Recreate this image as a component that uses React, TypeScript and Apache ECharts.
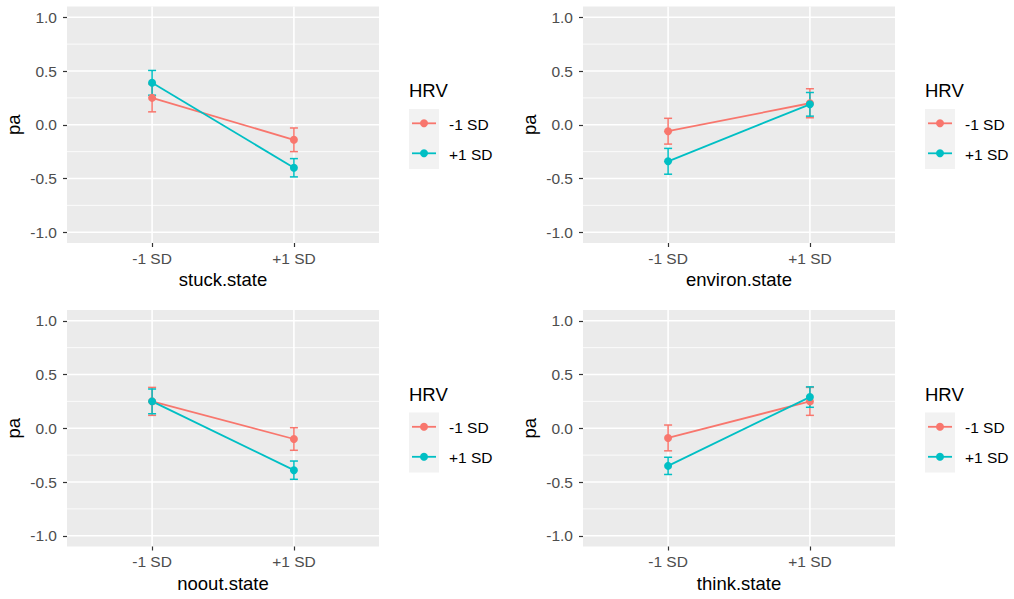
import React, { useEffect, useRef } from 'react';
import * as echarts from 'echarts';

// Facets: one panel per state variable
const panelNames = ['stuck.state', 'environ.state', 'noout.state', 'think.state'];
// Levels on the x axis
const stateLevels = ['-1 SD', '+1 SD'];
// HRV moderator groups (legend)
const hrvGroups = ['-1 SD', '+1 SD'];
const groupColors = ['#F8766D', '#00BFC4'];
// y axis breaks
const yBreaks = [-1, -0.5, 0, 0.5, 1];
const yMinorBreaks = [-0.75, -0.25, 0.25, 0.75];

// Estimated marginal means of pa, [panel][state level]
const lowHrvMean = [
  [0.25, -0.14],
  [-0.06, 0.2],
  [0.25, -0.1],
  [-0.09, 0.25],
];
const lowHrvErr = [
  [0.13, 0.11],
  [0.12, 0.135],
  [0.13, 0.105],
  [0.12, 0.13],
];
const highHrvMean = [
  [0.39, -0.4],
  [-0.34, 0.19],
  [0.25, -0.39],
  [-0.35, 0.29],
];
const highHrvErr = [
  [0.115, 0.085],
  [0.12, 0.11],
  [0.115, 0.085],
  [0.08, 0.095],
];

const FONT = '"Liberation Sans", Arial, Helvetica, sans-serif';
const PANEL_W = 312;
const PANEL_H = 236.5;
const panelPos = [
  { left: 67, top: 6.5 },
  { left: 583, top: 6.5 },
  { left: 67, top: 310 },
  { left: 583, top: 310 },
];

function buildOption() {
  const means = [lowHrvMean, highHrvMean];
  const errs = [lowHrvErr, highHrvErr];
  const grid: any[] = [];
  const xAxis: any[] = [];
  const yAxis: any[] = [];
  const series: any[] = [];
  const graphic: any[] = [];

  panelNames.forEach((name, p) => {
    const pos = panelPos[p];
    grid.push({
      left: pos.left,
      top: pos.top,
      width: PANEL_W,
      height: PANEL_H,
      show: true,
      backgroundColor: '#EBEBEB',
      borderWidth: 0,
    });
    xAxis.push({
      type: 'value',
      gridIndex: p,
      min: 0.4,
      max: 2.6,
      name,
      nameLocation: 'middle',
      nameGap: 27,
      nameTextStyle: { color: '#000', fontSize: 18.5, fontFamily: FONT },
      axisLine: { show: false, onZero: false },
      axisTick: {
        show: true,
        length: 4,
        customValues: stateLevels.map((_, i) => i + 1),
        lineStyle: { color: '#333333', width: 1.2 },
      },
      axisLabel: {
        customValues: stateLevels.map((_, i) => i + 1),
        formatter: (v: number) => stateLevels[Math.round(v) - 1] ?? '',
        color: '#4D4D4D',
        fontSize: 15.5,
        fontFamily: FONT,
        margin: 7,
      },
      splitLine: { show: false },
    });
    yAxis.push({
      type: 'value',
      gridIndex: p,
      min: -1.1,
      max: 1.1,
      name: 'pa',
      nameLocation: 'middle',
      nameRotate: 90,
      nameGap: 44,
      nameTextStyle: { color: '#000', fontSize: 18.5, fontFamily: FONT },
      axisLine: { show: false, onZero: false },
      axisTick: {
        show: true,
        length: 4,
        customValues: yBreaks,
        lineStyle: { color: '#333333', width: 1.2 },
      },
      axisLabel: {
        customValues: yBreaks,
        formatter: (v: number) => v.toFixed(1),
        color: '#4D4D4D',
        fontSize: 15.5,
        fontFamily: FONT,
        margin: 10,
      },
      splitLine: { show: false },
    });

    // panel grid lines (major and minor horizontals, verticals at the levels)
    const hLine = (values: number[], width: number) => ({
      type: 'custom',
      xAxisIndex: p,
      yAxisIndex: p,
      silent: true,
      z: 0,
      clip: false,
      data: values.map((v) => [1.5, v]),
      renderItem: (params: any, api: any) => {
        const cs = params.coordSys;
        const y = api.coord([1.5, api.value(1)])[1];
        return {
          type: 'line',
          shape: { x1: cs.x, y1: y, x2: cs.x + cs.width, y2: y },
          style: { stroke: '#FFFFFF', lineWidth: width },
        };
      },
    });
    series.push(hLine(yMinorBreaks, 0.8));
    series.push(hLine(yBreaks, 1.6));
    series.push({
      type: 'custom',
      xAxisIndex: p,
      yAxisIndex: p,
      silent: true,
      z: 0,
      clip: false,
      data: stateLevels.map((_, i) => [i + 1, 0]),
      renderItem: (params: any, api: any) => {
        const cs = params.coordSys;
        const x = api.coord([api.value(0), 0])[0];
        return {
          type: 'line',
          shape: { x1: x, y1: cs.y, x2: x, y2: cs.y + cs.height },
          style: { stroke: '#FFFFFF', lineWidth: 1.6 },
        };
      },
    });

    // error bars
    hrvGroups.forEach((g, gi) => {
      series.push({
        type: 'custom',
        name: g,
        xAxisIndex: p,
        yAxisIndex: p,
        silent: true,
        z: 1,
        data: stateLevels.map((_, i) => [
          i + 1,
          means[gi][p][i] - errs[gi][p][i],
          means[gi][p][i] + errs[gi][p][i],
        ]),
        encode: { x: 0, y: [1, 2] },
        renderItem: (params: any, api: any) => {
          const x = api.value(0);
          const lo = api.coord([x, api.value(1)]);
          const hi = api.coord([x, api.value(2)]);
          const c = groupColors[gi];
          const st = { stroke: c, lineWidth: 1.5 };
          return {
            type: 'group',
            children: [
              { type: 'line', shape: { x1: lo[0], y1: lo[1], x2: hi[0], y2: hi[1] }, style: st },
              { type: 'line', shape: { x1: lo[0] - 4, y1: lo[1], x2: lo[0] + 4, y2: lo[1] }, style: st },
              { type: 'line', shape: { x1: hi[0] - 4, y1: hi[1], x2: hi[0] + 4, y2: hi[1] }, style: st },
            ],
          };
        },
      });
    });

    // lines and points
    hrvGroups.forEach((g, gi) => {
      series.push({
        type: 'line',
        name: g,
        xAxisIndex: p,
        yAxisIndex: p,
        z: 2,
        data: stateLevels.map((_, i) => [i + 1, means[gi][p][i]]),
        symbol: 'circle',
        symbolSize: 8,
        showSymbol: true,
        itemStyle: { color: groupColors[gi] },
        lineStyle: { color: groupColors[gi], width: 1.8 },
        emphasis: { disabled: true },
      });
    });

    // legend for the panel
    const lx = pos.left + PANEL_W + 30;
    const ty = pos.top;
    graphic.push({
      type: 'text',
      x: lx,
      y: ty + 84,
      style: {
        text: 'HRV',
        fill: '#000',
        font: `18.5px ${FONT}`,
        align: 'left',
        verticalAlign: 'middle',
      },
    });
    graphic.push({
      type: 'rect',
      shape: { x: lx, y: ty + 102.5, width: 30, height: 60 },
      style: { fill: '#F2F2F2' },
    });
    hrvGroups.forEach((g, gi) => {
      const cy = ty + 116.8 + gi * 30;
      graphic.push({
        type: 'line',
        shape: { x1: lx + 3, y1: cy, x2: lx + 27, y2: cy },
        style: { stroke: groupColors[gi], lineWidth: 1.8 },
      });
      graphic.push({
        type: 'circle',
        shape: { cx: lx + 15, cy, r: 4 },
        style: { fill: groupColors[gi] },
      });
      graphic.push({
        type: 'text',
        x: lx + 40,
        y: cy + 1,
        style: {
          text: g,
          fill: '#000',
          font: `15.5px ${FONT}`,
          align: 'left',
          verticalAlign: 'middle',
        },
      });
    });
  });

  return {
    animation: false,
    backgroundColor: '#FFFFFF',
    grid,
    xAxis,
    yAxis,
    series,
    graphic,
  };
}

export default function App() {
  const ref = useRef<HTMLDivElement>(null);
  useEffect(() => {
    if (!ref.current) return;
    const chart = echarts.init(ref.current, null, { renderer: 'svg' });
    chart.setOption(buildOption());
    return () => chart.dispose();
  }, []);
  return (
    <div
      ref={ref}
      style={{ position: 'fixed', left: 0, top: 0, width: 1014, height: 599 }}
    />
  );
}
